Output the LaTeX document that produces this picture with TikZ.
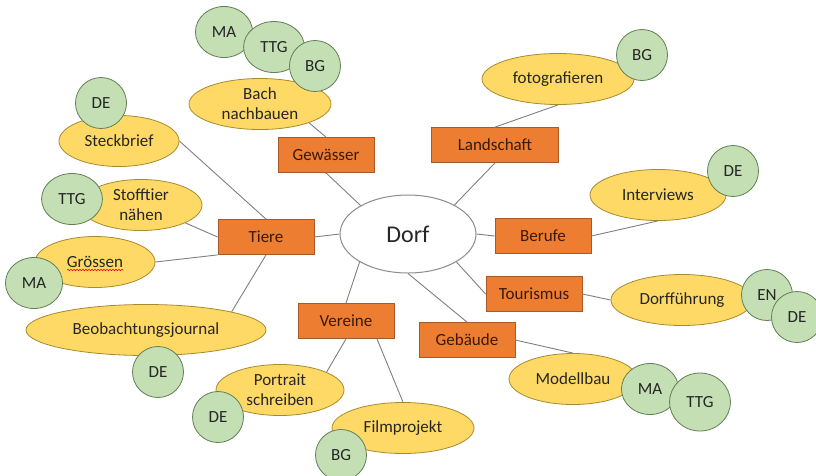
\documentclass[tikz,border=0pt]{standalone}
\usepackage{fontspec}
\setmainfont{Carlito}
\usepackage{xcolor}
\usepackage{tikz}
\usetikzlibrary{shapes,decorations.pathmorphing}

\definecolor{topicfill}{HTML}{ED7D31}
\definecolor{topicline}{HTML}{A95A24}
\definecolor{topictext}{HTML}{3A1A06}
\definecolor{taskfill}{HTML}{FFD966}
\definecolor{taskline}{HTML}{A88A2E}
\definecolor{subjfill}{HTML}{C3DFB3}
\definecolor{subjline}{HTML}{627F57}
\definecolor{hubline}{HTML}{8C8C8C}
\definecolor{linkgray}{HTML}{808080}
\definecolor{labeltext}{HTML}{262626}

\begin{document}
\begin{tikzpicture}[
	x=1pt, y=-1pt,
	hub/.style={
		ellipse, draw=hubline, fill=white, line width=1pt,
		minimum width=136pt, minimum height=78pt, inner sep=0pt,
		text=labeltext, font=\fontsize{24}{28}\selectfont
	},
	topic/.style={
		draw=topicline, fill=topicfill, line width=0.8pt,
		minimum width=96pt, minimum height=35pt, inner sep=0pt,
		text=topictext, font=\fontsize{17}{20}\selectfont
	},
	task/.style={
		ellipse, draw=taskline, fill=taskfill, line width=0.8pt,
		minimum height=51pt, inner sep=0pt, align=center,
		text=labeltext, font=\fontsize{17}{20}\selectfont
	},
	subj/.style={
		ellipse, draw=subjline, fill=subjfill, line width=0.8pt,
		minimum width=51pt, minimum height=51pt,
		inner xsep=8pt, inner ysep=2pt,
		text=labeltext, font=\fontsize{17}{20}\selectfont
	},
	link/.style={
		draw=linkgray, line width=0.9pt
	}
]
\path[use as bounding box, fill=white] (0,0) rectangle (816,475);

\node[hub] (dorf) at (408,234) {Dorf};

\node[topic] (gewaesser) at (326,155) {Gewässer};
\node[topic, minimum width=127pt] (landschaft) at (495,145) {Landschaft};
\node[topic] (tiere) at (266,237) {Tiere};
\node[topic] (berufe) at (543,236) {Berufe};
\node[topic] (tourismus) at (534,294) {Tourismus};
\node[topic] (gebaeude) at (467,340) {Gebäude};
\node[topic] (vereine) at (346,321) {Vereine};

\node[task, minimum width=142pt] (bach) at (260,104) {Bach\\nachbauen};
\node[task, minimum width=120pt] (steckbrief) at (119,141) {Steckbrief};
\node[task, minimum width=122pt] (stofftier) at (141,205) {Stofftier\\nähen};
\node[task, minimum width=120pt] (groessen) at (95,262) {Grössen};
\node[task, minimum width=240pt] (journal) at (146,330) {Beobachtungsjournal};
\node[task, minimum width=128pt] (portrait) at (280,390) {Portrait\\schreiben};
\node[task, minimum width=142pt] (film) at (403,428) {Filmprojekt};
\node[task, minimum width=152pt] (foto) at (558,79) {fotografieren};
\node[task, minimum width=136pt] (interviews) at (658,195) {Interviews};
\node[task, minimum width=142pt] (fuehrung) at (682,300) {Dorfführung};
\node[task, minimum width=128pt] (modell) at (573,379) {Modellbau};

\draw[red, line width=0.6pt, decorate,
	decoration={snake, amplitude=0.7pt, segment length=3pt}]
	([xshift=-28pt, yshift=-8pt]groessen.center) -- ([xshift=28pt, yshift=-8pt]groessen.center);

\node[subj] (maBach) at (224,32) {MA};
\node[subj] (ttgBach) at (274,47) {TTG};
\node[subj] (bgBach) at (315,66) {BG};
\node[subj] (deSteck) at (101,103) {DE};
\node[subj] (ttgStoff) at (72,199) {TTG};
\node[subj] (maGroe) at (34,283) {MA};
\node[subj] (deJour) at (158,372) {DE};
\node[subj] (dePort) at (218,417) {DE};
\node[subj] (bgFilm) at (341,455) {BG};
\node[subj] (bgFoto) at (642,55) {BG};
\node[subj] (deInt) at (733,171) {DE};
\node[subj] (enFuehr) at (767,295) {EN};
\node[subj] (deFuehr) at (797,317) {DE};
\node[subj] (maMod) at (650,389) {MA};
\node[subj, minimum height=58pt] (ttgMod) at (700,402) {TTG};

\foreach \a/\b in {
	dorf.149/gewaesser.south, gewaesser.north/bach.-21,
	dorf.32/landschaft.south, landschaft.north/foto.south,
	dorf.west/tiere.east, tiere.north/steckbrief.east,
	tiere.west/stofftier.-22, tiere.south west/groessen.east,
	tiere.south/journal.12,
	dorf.east/berufe.west, berufe.east/interviews.south,
	dorf.-30/tourismus.west, tourismus.east/fuehrung.west,
	dorf.south/gebaeude.north, gebaeude.east/modell.north,
	dorf.210/vereine.north, vereine.south/portrait.21,
	vereine.-30/film.north} {
	\draw[link] (\a) -- (\b);
}
\end{tikzpicture}
\end{document}
